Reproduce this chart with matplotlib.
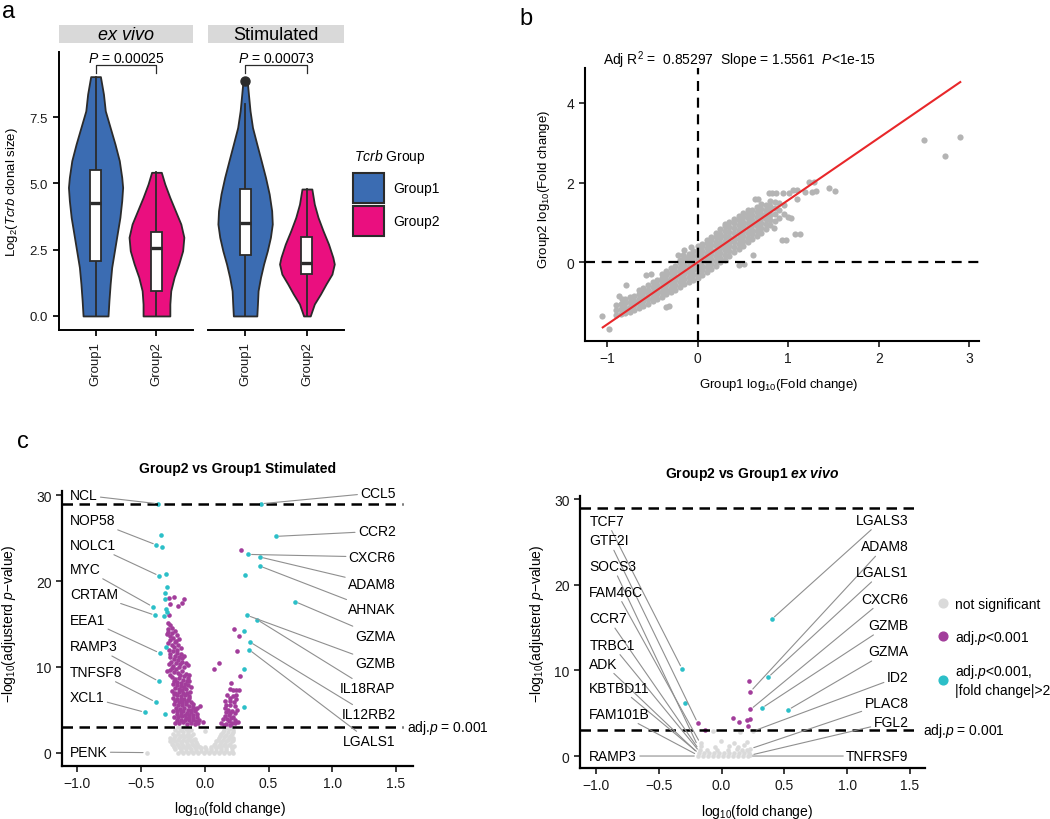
import numpy as np
import matplotlib
matplotlib.use("Agg")
import matplotlib.pyplot as plt
from matplotlib.patches import Rectangle, Patch
from matplotlib.lines import Line2D

plt.rcParams['font.family'] = ['Liberation Sans', 'DejaVu Sans']
plt.rcParams['mathtext.fontset'] = 'custom'
plt.rcParams['mathtext.rm'] = 'Liberation Sans'
plt.rcParams['mathtext.it'] = 'Liberation Sans:italic'
plt.rcParams['mathtext.bf'] = 'Liberation Sans:bold'
plt.rcParams['mathtext.bfit'] = 'Liberation Sans:italic:bold'

BLUE = '#3b6cb2'
PINK = '#ea0f7f'
CYAN = '#2cbfc8'
PURPLE = '#a23d9b'
NS_GREY = '#dadada'
PT_GREY = '#b4b4b4'
RED = '#e8272a'
DARK = '#2b2b2b'

# ---------------- panel a : violins (y levels + half widths)
groups = ['Group1', 'Group2']
conditions = ['ex vivo', 'Stimulated']
p_values = ['0.00025', '0.00073']

exvivo_g1_y = [0.0, 0.58, 1.21, 1.83, 2.46, 3.09, 3.72, 4.35, 4.85, 5.23, 5.86, 6.48, 7.11, 7.74, 8.37, 9.03]
exvivo_g1_w = [0.205, 0.22, 0.24, 0.265, 0.31, 0.355, 0.40, 0.43, 0.445, 0.43, 0.39, 0.32, 0.24, 0.16, 0.13, 0.08]
exvivo_g2_y = [0.0, 0.45, 0.95, 1.46, 1.96, 2.46, 2.97, 3.47, 3.97, 4.47, 4.98, 5.42]
exvivo_g2_w = [0.22, 0.22, 0.235, 0.29, 0.366, 0.43, 0.45, 0.40, 0.31, 0.22, 0.137, 0.08]
stim_g1_y = [0.0, 0.45, 0.95, 1.46, 1.96, 2.46, 2.97, 3.47, 3.97, 4.6, 5.23, 5.86, 6.48, 7.11, 7.74, 8.37, 8.85]
stim_g1_w = [0.19, 0.20, 0.21, 0.25, 0.30, 0.36, 0.41, 0.44, 0.43, 0.39, 0.33, 0.26, 0.19, 0.12, 0.08, 0.054, 0.035]
stim_g2_y = [0.0, 0.45, 0.83, 1.21, 1.58, 1.96, 2.21, 2.71, 3.22, 3.72, 4.22, 4.79]
stim_g2_w = [0.054, 0.12, 0.22, 0.31, 0.405, 0.443, 0.42, 0.35, 0.26, 0.18, 0.12, 0.08]

# box stats: whisker low, q1, median, q3, whisker high
exvivo_box = [[0.0, 2.06, 4.25, 5.52, 9.03], [0.0, 0.95, 2.56, 3.15, 5.42]]
stim_box = [[0.0, 2.31, 3.51, 4.79, 7.99], [0.0, 1.58, 1.98, 2.99, 4.79]]
stim_outlier = 8.85

# ---------------- panel b : scatter
fit_slope = 1.5561
fit_intercept = 0.005
fit_x_range = [-1.05, 2.9]
b_cloud = [
    (-0.90, [-1.33, -1.20, -1.07]),
    (-0.85, [-1.30, -1.17, -1.04]),
    (-0.80, [-1.28, -1.15, -1.02, -0.92]),
    (-0.75, [-1.24, -1.12, -1.00, -0.88]),
    (-0.70, [-1.20, -1.08, -0.96, -0.84]),
    (-0.65, [-1.15, -1.03, -0.91, -0.79, -0.70]),
    (-0.60, [-1.10, -0.98, -0.86, -0.74, -0.63]),
    (-0.55, [-1.04, -0.92, -0.80, -0.68, -0.56]),
    (-0.50, [-0.98, -0.86, -0.74, -0.62, -0.50]),
    (-0.45, [-0.92, -0.80, -0.68, -0.56, -0.44]),
    (-0.40, [-0.86, -0.74, -0.62, -0.50, -0.38, -0.30]),
    (-0.35, [-0.80, -0.68, -0.56, -0.44, -0.32, -0.22]),
    (-0.30, [-0.75, -0.63, -0.51, -0.39, -0.27, -0.15]),
    (-0.25, [-0.69, -0.57, -0.45, -0.33, -0.21, -0.08]),
    (-0.20, [-0.61, -0.49, -0.37, -0.25, -0.13, -0.01, 0.06]),
    (-0.15, [-0.54, -0.42, -0.30, -0.18, -0.06, 0.06, 0.13]),
    (-0.10, [-0.48, -0.36, -0.24, -0.12, 0.00, 0.12, 0.22]),
    (-0.05, [-0.44, -0.32, -0.20, -0.08, 0.04, 0.16, 0.28]),
    (0.00, [-0.40, -0.28, -0.16, -0.04, 0.08, 0.20, 0.32, 0.40]),
    (0.05, [-0.32, -0.20, -0.08, 0.04, 0.16, 0.28, 0.40, 0.46]),
    (0.10, [-0.24, -0.12, 0.00, 0.12, 0.24, 0.36, 0.48, 0.55]),
    (0.15, [-0.16, -0.04, 0.08, 0.20, 0.32, 0.44, 0.56, 0.64]),
    (0.20, [-0.08, 0.04, 0.16, 0.28, 0.40, 0.52, 0.64, 0.74]),
    (0.25, [0.00, 0.12, 0.24, 0.36, 0.48, 0.60, 0.72, 0.84]),
    (0.30, [0.06, 0.18, 0.30, 0.42, 0.54, 0.66, 0.78, 0.90, 0.96]),
    (0.35, [0.16, 0.28, 0.40, 0.52, 0.64, 0.76, 0.88, 1.00]),
    (0.40, [0.26, 0.38, 0.50, 0.62, 0.74, 0.86, 0.98, 1.08]),
    (0.45, [0.34, 0.46, 0.58, 0.70, 0.82, 0.94, 1.06, 1.16]),
    (0.50, [0.42, 0.54, 0.66, 0.78, 0.90, 1.02, 1.14, 1.24]),
    (0.55, [0.50, 0.62, 0.74, 0.86, 0.98, 1.10, 1.22, 1.30]),
    (0.60, [0.58, 0.70, 0.82, 0.94, 1.06, 1.18, 1.30]),
    (0.65, [0.66, 0.78, 0.90, 1.02, 1.14, 1.26, 1.38]),
    (0.70, [0.74, 0.86, 0.98, 1.10, 1.22, 1.34, 1.46]),
    (0.75, [0.84, 0.96, 1.08, 1.20, 1.32, 1.44]),
    (0.80, [0.94, 1.06, 1.18, 1.30, 1.42, 1.54]),
    (0.85, [1.04, 1.20, 1.36, 1.52]),
    (0.90, [1.12, 1.30, 1.50]),
    (0.95, [1.22, 1.45]),
]
b_outliers = [
    (-1.056, -1.34), (-0.976, -1.67), (-0.865, -0.84), (-0.84, -0.92), (-0.79, -0.56),
    (-0.57, -0.32), (-0.52, -0.30), (-0.35, -1.13), (-0.32, -1.10), (-0.22, 0.18),
    (-0.147, 0.32), (-0.166, 0.18), (-0.073, 0.38), (0.46, -0.06), (0.516, -0.04),
    (0.61, 0.18), (0.627, 1.59), (0.663, 1.59), (0.785, 1.75), (0.822, 1.74),
    (0.866, 1.74), (0.847, 0.85), (0.932, 0.57), (0.94, 1.74), (0.977, 0.57),
    (0.995, 1.13), (1.013, 1.73), (1.03, 1.11), (1.05, 1.82), (1.076, 0.70),
    (1.094, 1.59), (1.094, 1.81), (1.124, 0.70), (1.19, 1.77), (1.234, 2.02),
    (1.264, 1.77), (1.28, 2.02), (1.308, 1.78), (1.45, 1.87), (1.52, 1.80),
    (2.497, 3.07), (2.726, 2.67), (2.9, 3.13),
]

# ---------------- panel c : volcano, Stimulated
stim_ns = [
    (-0.457, 0.0), (-0.21, 0.0), (-0.17, 0.0), (-0.13, 0.0), (-0.09, 0.0), (-0.05, 0.0), (-0.01, 0.0),
    (0.03, 0.0), (0.07, 0.0), (0.11, 0.0), (0.15, 0.0), (0.19, 0.0), (0.22, 0.0),
    (-0.19, 0.2), (-0.15, 0.2), (-0.11, 0.2), (-0.07, 0.2), (-0.03, 0.2), (0.01, 0.2), (0.05, 0.2),
    (0.09, 0.2), (0.13, 0.2), (0.17, 0.2), (0.21, 0.2),
    (-0.23, 0.4), (-0.19, 0.4), (-0.15, 0.5), (-0.11, 0.4), (-0.07, 0.4), (-0.03, 0.5), (0.01, 0.4),
    (0.05, 0.4), (0.09, 0.5), (0.13, 0.4), (0.17, 0.4), (0.21, 0.5),
    (-0.24, 0.65), (-0.20, 0.65), (-0.16, 0.65), (-0.12, 0.65), (-0.08, 0.65), (-0.04, 0.65), (0.00, 0.6),
    (0.05, 0.65), (0.09, 0.65), (0.13, 0.65), (0.17, 0.65), (0.21, 0.65),
    (-0.25, 0.9), (-0.21, 0.9), (-0.17, 0.8), (-0.13, 0.9), (-0.09, 0.9), (-0.05, 0.8), (0.07, 0.9),
    (0.11, 0.8), (0.15, 0.9), (0.19, 0.9), (0.23, 0.8),
    (-0.26, 1.05), (-0.22, 1.05), (-0.18, 1.05), (-0.14, 1.05), (-0.10, 1.05), (-0.06, 1.05), (0.08, 1.05),
    (0.12, 1.05), (0.16, 1.05), (0.20, 1.05),
    (-0.27, 1.3), (-0.23, 1.3), (-0.19, 1.2), (-0.15, 1.3), (-0.11, 1.3), (-0.07, 1.2), (0.09, 1.3),
    (0.13, 1.2), (0.17, 1.3), (0.21, 1.3),
    (-0.25, 1.5), (-0.21, 1.5), (-0.17, 1.5), (-0.13, 1.5), (-0.09, 1.45), (0.10, 1.5), (0.14, 1.5),
    (0.18, 1.5), (0.22, 1.5),
    (-0.274, 1.7), (-0.24, 1.7), (-0.20, 1.7), (-0.16, 1.8), (-0.12, 1.7), (-0.08, 1.6), (0.11, 1.7),
    (0.15, 1.8), (0.19, 1.7), (0.22, 1.7),
    (-0.23, 1.95), (-0.19, 1.95), (-0.15, 1.95), (-0.11, 1.95), (0.12, 1.95), (0.16, 1.95), (0.20, 1.95),
    (-0.25, 2.2), (-0.21, 2.2), (-0.17, 2.1), (-0.13, 2.2), (-0.09, 2.2), (0.13, 2.2), (0.17, 2.1), (0.21, 2.2),
    (-0.21, 2.4), (-0.17, 2.4), (-0.13, 2.4), (0.14, 2.4), (0.18, 2.4), (0.22, 2.4),
    (-0.23, 2.6), (-0.19, 2.6), (-0.15, 2.7), (-0.11, 2.6), (0.00, 2.5), (0.15, 2.6), (0.19, 2.7), (0.22, 2.6),
    (-0.19, 2.8), (-0.13, 2.85), (0.19, 2.85),
    (-0.21, 3.0), (-0.16, 3.0), (0.17, 3.0), (0.21, 2.95),
]
stim_sig = [
    (-0.28, 18.06), (-0.243, 18.18), (-0.165, 17.95), (-0.178, 17.4), (-0.209, 17.1), (-0.274, 17.3), (-0.28, 16.0),
    (-0.29, 15.1), (-0.27, 14.9), (-0.29, 14.4), (-0.26, 14.5), (-0.23, 14.2), (-0.30, 13.8), (-0.27, 13.6),
    (-0.25, 13.4), (-0.22, 13.7), (-0.20, 13.2), (-0.29, 12.8), (-0.26, 12.6), (-0.235, 12.9), (-0.21, 12.5),
    (-0.19, 12.2), (-0.28, 12.0), (-0.25, 11.8), (-0.22, 11.6), (-0.19, 11.5), (-0.16, 11.3), (-0.27, 11.1),
    (-0.24, 10.9), (-0.21, 10.8), (-0.18, 10.6), (-0.15, 10.4), (-0.28, 10.3), (-0.25, 10.1), (-0.20, 10.0),
    (-0.13, 10.2), (-0.294, 9.5), (-0.27, 9.6), (-0.24, 9.4), (-0.21, 9.3), (-0.18, 9.5), (-0.15, 9.2),
    (-0.12, 9.0), (-0.26, 8.8), (-0.23, 8.6), (-0.20, 8.7), (-0.17, 8.5), (-0.14, 8.3), (-0.25, 8.0),
    (-0.22, 7.9), (-0.19, 7.8), (-0.16, 7.7), (-0.13, 7.9), (-0.11, 7.6), (-0.26, 7.2), (-0.23, 7.0),
    (-0.20, 7.1), (-0.17, 6.9), (-0.14, 7.0), (-0.12, 6.6), (-0.25, 6.4), (-0.22, 6.3), (-0.19, 6.2),
    (-0.16, 6.3), (-0.13, 6.1), (-0.11, 5.9), (-0.24, 5.7), (-0.21, 5.6), (-0.18, 5.5), (-0.15, 5.7),
    (-0.12, 5.4), (-0.09, 5.3), (-0.06, 5.2), (-0.04, 5.4), (-0.25, 4.9), (-0.22, 4.8), (-0.19, 4.7),
    (-0.17, 4.9), (-0.14, 4.6), (-0.11, 4.7), (-0.08, 4.8), (-0.24, 4.2), (-0.21, 4.1), (-0.18, 4.3),
    (-0.15, 4.0), (-0.12, 4.2), (-0.09, 4.0), (-0.06, 4.1), (-0.23, 3.5), (-0.20, 3.4), (-0.17, 3.6),
    (-0.14, 3.3), (-0.11, 3.5), (-0.08, 3.3), (-0.05, 3.4), (-0.013, 3.6),
    (-0.285, 14.0), (-0.255, 13.9), (-0.225, 13.0), (-0.275, 13.1), (-0.245, 12.3), (-0.215, 12.0),
    (-0.275, 11.5), (-0.235, 11.3), (-0.205, 11.1), (-0.175, 11.0), (-0.265, 10.6), (-0.225, 10.4),
    (-0.195, 10.3), (-0.165, 10.0), (-0.255, 9.9), (-0.225, 9.8), (-0.195, 9.0), (-0.165, 8.9),
    (-0.135, 8.7), (-0.275, 9.1), (-0.245, 8.4), (-0.215, 8.2), (-0.185, 8.1), (-0.155, 8.0),
    (-0.125, 8.4), (-0.235, 7.5), (-0.205, 7.4), (-0.175, 7.3), (-0.145, 7.4), (-0.115, 7.1),
    (-0.245, 6.8), (-0.215, 6.7), (-0.185, 6.6), (-0.155, 6.7), (-0.125, 6.4), (-0.235, 6.0),
    (-0.205, 5.9), (-0.175, 5.9), (-0.145, 5.9), (-0.095, 5.7), (-0.225, 5.2), (-0.195, 5.1),
    (-0.165, 5.2), (-0.135, 5.0), (-0.105, 5.0), (-0.075, 5.1), (-0.215, 4.5), (-0.185, 4.4),
    (-0.155, 4.4), (-0.125, 4.4), (-0.095, 4.4), (-0.065, 4.5), (-0.045, 3.8), (-0.215, 3.8),
    (-0.185, 3.8), (-0.155, 3.8), (-0.125, 3.8), (-0.095, 3.8), (-0.07, 3.7),
    (0.282, 23.6), (0.23, 14.45), (0.269, 13.6), (0.256, 11.9), (0.28, 8.9), (0.112, 10.5), (0.073, 9.7),
    (0.209, 8.16), (0.196, 7.4), (0.222, 7.3), (0.248, 7.3), (0.27, 7.3), (0.248, 6.7), (0.178, 6.7),
    (0.157, 6.0), (0.196, 6.0), (0.23, 5.9), (0.248, 6.2), (0.157, 5.25), (0.18, 5.0), (0.21, 4.8),
    (0.25, 5.0), (0.157, 4.3), (0.19, 4.4), (0.22, 4.1), (0.19, 3.7), (0.13, 3.5), (0.17, 3.3),
    (0.21, 3.5), (0.24, 3.4),
    (0.20, 6.4), (0.22, 6.6), (0.165, 5.6), (0.20, 5.5), (0.235, 5.4), (0.17, 4.7), (0.20, 4.6),
    (0.235, 4.6), (0.145, 3.9), (0.175, 3.9), (0.205, 4.0), (0.235, 3.8), (0.15, 3.2), (0.20, 3.2), (0.26, 3.6),
]
stim_fc = [
    (-0.366, 29.0), (0.439, 29.0), (-0.347, 25.4), (-0.379, 24.2), (-0.337, 24.0), (0.556, 25.2),
    (0.340, 23.1), (0.431, 22.8), (0.431, 21.75), (0.313, 20.7), (-0.358, 20.6), (-0.303, 20.8),
    (-0.298, 19.3), (-0.316, 18.6), (-0.311, 17.9), (-0.408, 17.0), (-0.306, 16.7), (-0.298, 16.4),
    (-0.389, 16.0), (-0.319, 15.9), (0.708, 17.6), (0.332, 16.0), (0.41, 15.5), (0.308, 14.2),
    (0.353, 12.9), (0.347, 12.0), (-0.353, 11.6), (-0.308, 12.3), (0.306, 9.8), (-0.36, 8.3),
    (-0.386, 5.9), (-0.47, 4.7), (-0.313, 4.5), (0.308, 5.3),
]
stim_left_genes = ['NCL', 'NOP58', 'NOLC1', 'MYC', 'CRTAM', 'EEA1', 'RAMP3', 'TNFSF8', 'XCL1', 'PENK']
stim_left_label_y = [30.0, 27.1, 24.2, 21.4, 18.45, 15.5, 12.4, 9.4, 6.5, 0.07]
stim_left_targets = [(-0.366, 29.0), (-0.379, 24.2), (-0.358, 20.6), (-0.408, 17.0), (-0.389, 16.0),
                     (-0.353, 11.6), (-0.36, 8.3), (-0.386, 5.9), (-0.47, 4.7), (-0.457, 0.0)]
stim_right_genes = ['CCL5', 'CCR2', 'CXCR6', 'ADAM8', 'AHNAK', 'GZMA', 'GZMB', 'IL18RAP', 'IL12RB2', 'LGALS1']
stim_right_label_y = [30.3, 25.8, 22.8, 19.7, 16.7, 13.6, 10.5, 7.5, 4.46, 1.35]
stim_right_targets = [(0.439, 29.0), (0.556, 25.2), (0.340, 23.1), (0.431, 22.8), (0.431, 21.75),
                      (0.708, 17.6), (0.332, 16.0), (0.41, 15.5), (0.353, 12.9), (0.347, 12.0)]

# ---------------- panel c : volcano, ex vivo
ev_ns = [
    (-0.19, 0.0), (-0.15, 0.0), (-0.11, 0.0), (-0.07, 0.0), (-0.03, 0.0), (0.01, 0.0), (0.05, 0.0),
    (0.09, 0.0), (0.13, 0.0), (0.17, 0.0), (0.21, 0.0), (0.23, 0.1),
    (-0.18, 0.35), (-0.14, 0.3), (-0.10, 0.35), (-0.06, 0.3), (-0.02, 0.35), (0.02, 0.3), (0.06, 0.35),
    (0.10, 0.3), (0.14, 0.35), (0.18, 0.3), (0.22, 0.35),
    (-0.17, 0.75), (-0.12, 0.7), (-0.04, 0.75), (0.05, 0.7), (0.12, 0.8), (0.16, 0.7), (0.20, 0.75), (0.23, 0.85),
    (-0.16, 1.2), (-0.05, 1.1), (0.06, 1.2), (0.13, 1.1), (0.18, 1.25),
    (-0.16, 1.5), (0.10, 1.5), (0.20, 1.6), (-0.008, 1.75), (-0.066, 2.87), (0.15, 2.8), (0.25, 2.9),
]
ev_sig = [(0.22, 8.82), (0.23, 7.54), (0.23, 5.44), (-0.19, 3.85), (-0.13, 3.1), (0.09, 4.4),
          (0.14, 3.96), (0.20, 4.27), (0.23, 4.33), (0.21, 3.46)]
ev_fc = [(0.40, 16.0), (-0.315, 10.2), (0.37, 9.2), (-0.294, 6.2), (0.32, 5.6), (0.53, 5.4)]
ev_left_genes = ['TCF7', 'GTF2I', 'SOCS3', 'FAM46C', 'CCR7', 'TRBC1', 'ADK', 'KBTBD11', 'FAM101B', 'RAMP3']
ev_left_label_y = [27.5, 25.2, 22.2, 19.2, 16.1, 13.0, 10.8, 8.0, 4.94, 0.0]
ev_left_targets = [(-0.315, 10.2), (-0.19, 3.85), (-0.19, 1.2), (-0.17, 1.5), (-0.18, 0.75), (-0.175, 0.5),
                   (-0.19, 0.35), (-0.18, 0.3), (-0.19, 0.1), (-0.19, 0.0)]
ev_right_genes = ['LGALS3', 'ADAM8', 'LGALS1', 'CXCR6', 'GZMB', 'GZMA', 'ID2', 'PLAC8', 'FGL2', 'TNFRSF9']
ev_right_label_y = [27.6, 24.5, 21.5, 18.4, 15.3, 12.25, 9.2, 6.2, 3.97, 0.0]
ev_right_targets = [(0.40, 16.0), (0.23, 7.54), (0.37, 9.2), (0.23, 5.44), (0.32, 5.6), (0.53, 5.4),
                    (0.25, 2.9), (0.23, 0.85), (0.23, 0.1), (0.22, 0.0)]

sig_threshold = 3.0
top_cap = 29.0

# ---------------------------------------------------------------
fig = plt.figure(figsize=(10.5, 8.2), dpi=100)
W, H = 1050, 820


def px_axes(left, top, right, bottom):
    return fig.add_axes([left / W, 1 - bottom / H, (right - left) / W, (bottom - top) / H])


def style_axes(ax, lw=1.5, size=10):
    for side in ['top', 'right']:
        ax.spines[side].set_visible(False)
    for side in ['left', 'bottom']:
        ax.spines[side].set_linewidth(lw)
    ax.tick_params(width=1.2, length=4, labelsize=size, colors='#1a1a1a')


# ---------------- panel a
ax_ev = px_axes(59, 53, 193, 331)
ax_st = px_axes(208, 53, 344, 331)
violins = [[(exvivo_g1_y, exvivo_g1_w), (exvivo_g2_y, exvivo_g2_w)],
           [(stim_g1_y, stim_g1_w), (stim_g2_y, stim_g2_w)]]
boxes = [exvivo_box, stim_box]
colors = [BLUE, PINK]

for k, ax in enumerate([ax_ev, ax_st]):
    style_axes(ax, lw=1.4, size=9.5)
    for i in range(2):
        pos = i + 1
        ys, ws = np.array(violins[k][i][0]), np.array(violins[k][i][1])
        ax.fill_betweenx(ys, pos - ws, pos + ws, facecolor=colors[i], edgecolor=DARK,
                         linewidth=1.3, zorder=2)
        wlo, q1, med, q3, whi = boxes[k][i]
        ax.plot([pos, pos], [wlo, q1], color=DARK, lw=1.3, zorder=3)
        ax.plot([pos, pos], [q3, whi], color=DARK, lw=1.3, zorder=3)
        ax.add_patch(Rectangle((pos - 0.09, q1), 0.18, q3 - q1, facecolor='white',
                               edgecolor=DARK, lw=1.3, zorder=3))
        ax.plot([pos - 0.09, pos + 0.09], [med, med], color=DARK, lw=2.4, zorder=4,
                solid_capstyle='butt')
    # p-value bracket
    ax.plot([1, 1, 2, 2], [9.18, 9.47, 9.47, 9.18], color=DARK, lw=0.9)
    ax.text(1.5, 9.75, r'$\it{P}$ = ' + p_values[k], ha='center', va='center', fontsize=10)
    # facet strip
    ax.add_patch(Rectangle((0, 1.032), 1, 0.065, transform=ax.transAxes, clip_on=False,
                           facecolor='#d9d9d9', edgecolor='none'))
    ax.text(0.5, 1.064, conditions[k], transform=ax.transAxes, ha='center', va='center',
            fontsize=13, fontstyle='italic' if k == 0 else 'normal')
    ax.set_xlim(0.4, 2.6)
    ax.set_ylim(-0.53, 9.96)
    ax.set_xticks([1, 2])
    ax.set_xticklabels(groups, rotation=90, va='top', ha='center')
    ax.set_yticks([0, 2.5, 5.0, 7.5])
    ax.tick_params(axis='both', length=4.5, width=1.4)

ax_st.plot(1, stim_outlier, 'o', color=DARK, ms=6.5, zorder=5, clip_on=False)
ax_st.spines['left'].set_visible(False)
ax_st.tick_params(axis='y', left=False, labelleft=False)
ax_ev.set_ylabel(r'Log$_2$($\it{Tcrb}$ clonal size)', fontsize=9.5)
ax_ev.yaxis.set_label_coords(-0.29, 0.5)

fig.text(354 / W, 1 - 157 / H, r'$\it{Tcrb}$ Group', fontsize=10, ha='left', va='center')
ax_st.legend(handles=[Patch(facecolor=BLUE, edgecolor=DARK, lw=1.5, label=groups[0]),
                      Patch(facecolor=PINK, edgecolor=DARK, lw=1.5, label=groups[1])],
             loc='upper left', bbox_to_anchor=(353 / W, 1 - 174 / H),
             bbox_transform=fig.transFigure, fontsize=10, frameon=False,
             handlelength=2.2, handleheight=2.95, labelspacing=0.2, handletextpad=0.7,
             borderpad=0, borderaxespad=0)

# ---------------- panel b
ax_b = px_axes(585, 69, 979, 342)
style_axes(ax_b, lw=1.5, size=10)
cloud_x = [x for x, ys in b_cloud for _ in ys]
cloud_y = [y for _, ys in b_cloud for y in ys]
ax_b.scatter(cloud_x, cloud_y, s=20, color=PT_GREY, linewidths=0, zorder=2)
ax_b.scatter([p[0] for p in b_outliers], [p[1] for p in b_outliers], s=20, color=PT_GREY,
             linewidths=0, zorder=2)
ax_b.axhline(0, color='black', lw=1.6, ls=(0, (4.5, 3)), zorder=3)
ax_b.axvline(0, color='black', lw=1.6, ls=(0, (4.5, 3)), zorder=3)
fx = np.array(fit_x_range)
ax_b.plot(fx, fit_slope * fx + fit_intercept, color=RED, lw=1.5, zorder=4)
ax_b.set_xlim(-1.246, 3.107)
ax_b.set_ylim(-1.97, 4.87)
ax_b.set_xticks([-1, 0, 1, 2, 3])
ax_b.set_yticks([0, 2, 4])
ax_b.set_xlabel(r'Group1 log$_{10}$(Fold change)', fontsize=9.5)
ax_b.set_ylabel(r'Group2 log$_{10}$(Fold change)', fontsize=9.5)
ax_b.xaxis.set_label_coords(0.492, -0.13)
ax_b.yaxis.set_label_coords(-0.084, 0.56)
ax_b.text(0.046, 1.033, r'Adj R$^2$ =  0.85297  Slope = 1.5561  $\it{P}$<1e-15',
          transform=ax_b.transAxes, fontsize=10, va='center', ha='left')


# ---------------- panel c
def volcano(ax, ns, sig, fc, lgenes, ly, ltgt, rgenes, ry, rtgt, xlim, ylim, title,
            left_x, right_x, dash_xmax, thr_text_x):
    style_axes(ax, lw=1.6, size=10)
    ax.scatter([p[0] for p in ns], [p[1] for p in ns], s=11, color=NS_GREY, linewidths=0, zorder=2)
    ax.scatter([p[0] for p in sig], [p[1] for p in sig], s=11, color=PURPLE, linewidths=0, zorder=2)
    ax.scatter([p[0] for p in fc], [p[1] for p in fc], s=11, color=CYAN, linewidths=0, zorder=2)
    for yv in [sig_threshold, top_cap]:
        ax.axhline(yv, xmax=dash_xmax, color='black', lw=1.8, ls=(0, (4.2, 2.6)), zorder=3)
    ax.text(thr_text_x, sig_threshold, r'adj.$\it{p}$ = 0.001', fontsize=10, va='center',
            ha='left', clip_on=False)
    line_kw = dict(arrowstyle='-', color='#8f8f8f', lw=0.8, shrinkA=0, shrinkB=2.5)
    for name, yv, tgt in zip(lgenes, ly, ltgt):
        ax.annotate(name, xy=tgt, xytext=(left_x, yv), ha='left', va='center', fontsize=10,
                    arrowprops=line_kw, annotation_clip=False, zorder=4)
    for name, yv, tgt in zip(rgenes, ry, rtgt):
        ax.annotate(name, xy=tgt, xytext=(right_x, yv), ha='right', va='center', fontsize=10,
                    arrowprops=line_kw, annotation_clip=False, zorder=4)
    ax.set_xlim(*xlim)
    ax.set_ylim(*ylim)
    ax.set_xticks([-1.0, -0.5, 0.0, 0.5, 1.0, 1.5])
    ax.set_yticks([0, 10, 20, 30])
    ax.set_xlabel(r'log$_{10}$(fold change)', fontsize=10)
    ax.set_ylabel('\u2212log$_{10}$(adjusterd $\\it{p}$\u2212value)', fontsize=10)
    ax.set_title(title, fontsize=10, fontweight='bold', pad=14)


ax_c1 = px_axes(62, 492, 413, 767)
volcano(ax_c1, stim_ns, stim_sig, stim_fc, stim_left_genes, stim_left_label_y, stim_left_targets,
        stim_right_genes, stim_right_label_y, stim_right_targets, (-1.12, 1.633), (-1.56, 30.49),
        'Group2 vs Group1 Stimulated', -1.058, 1.497, 0.971, 1.585)
ax_c1.xaxis.set_label_coords(0.478, -0.12)
ax_c1.yaxis.set_label_coords(-0.125, 0.52)

ax_c2 = px_axes(580, 497, 925, 769)
volcano(ax_c2, ev_ns, ev_sig, ev_fc, ev_left_genes, ev_left_label_y, ev_left_targets,
        ev_right_genes, ev_right_label_y, ev_right_targets, (-1.127, 1.619), (-1.40, 30.4),
        r'Group2 vs Group1 $\mathbfit{ex\ vivo}$', -1.053, 1.487, 0.976, 1.606)
ax_c2.xaxis.set_label_coords(0.513, -0.126)
ax_c2.yaxis.set_label_coords(-0.10, 0.533)

leg_handles = [Line2D([], [], marker='o', ls='none', color=c, markersize=6.3) for c in [NS_GREY, PURPLE, CYAN]]
leg_labels = ['not significant', r'adj.$\it{p}$<0.001', 'adj.$\\it{p}$<0.001,\n|fold change|>2']
ax_c2.legend(leg_handles, leg_labels, loc='upper left', bbox_to_anchor=(936 / W, 1 - 598 / H),
             bbox_transform=fig.transFigure, frameon=False, fontsize=10, handlelength=1.0,
             handletextpad=0.35, labelspacing=1.2, borderpad=0, borderaxespad=0)

# panel letters
fig.text(2 / W, 1 - 18 / H, 'a', fontsize=17, va='baseline', ha='left')
fig.text(519 / W, 1 - 25 / H, 'b', fontsize=17, va='baseline', ha='left')
fig.text(17 / W, 1 - 448 / H, 'c', fontsize=17, va='baseline', ha='left')

fig.savefig('out.png', dpi=100)
